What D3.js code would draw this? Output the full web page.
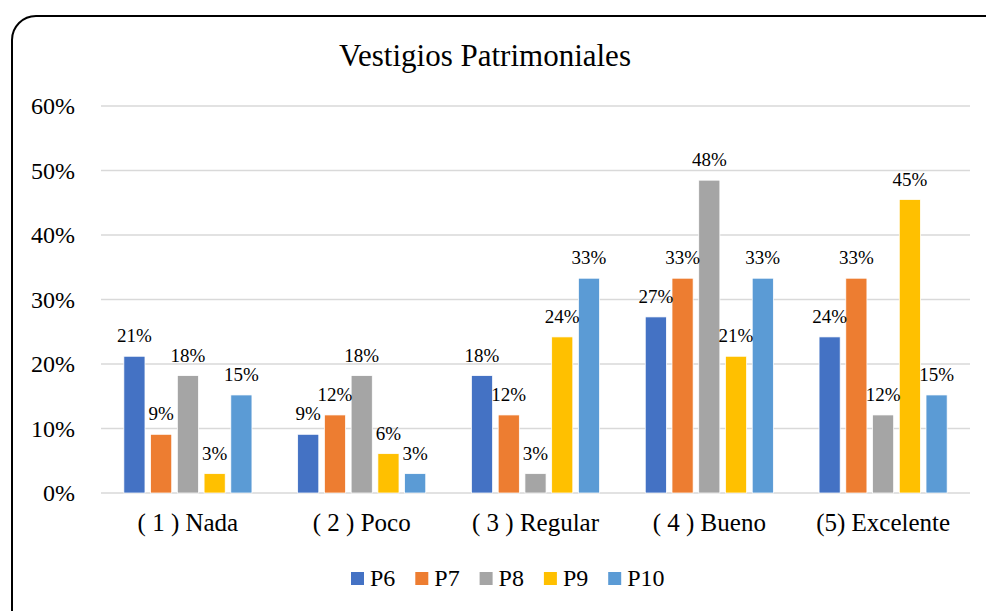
<!DOCTYPE html>
<html>
<head>
<meta charset="utf-8">
<script src="https://cdn.jsdelivr.net/npm/d3@7"></script>
<style>
  body { margin: 0; background: #fff; }
</style>
</head>
<body>
<svg id="chart" width="986" height="611"></svg>
<script>
// chart data
const categories = ["( 1 ) Nada", "( 2 ) Poco", "( 3 ) Regular", "( 4 ) Bueno", "(5) Excelente"];
const seriesNames = ["P6", "P7", "P8", "P9", "P10"];
const colors = ["#4472C4", "#ED7D31", "#A5A5A5", "#FFC000", "#5B9BD5"];
// one array per series, in category order (fractions)
const P6  = [0.212, 0.091, 0.182, 0.273, 0.242];
const P7  = [0.091, 0.121, 0.121, 0.333, 0.333];
const P8  = [0.182, 0.182, 0.030, 0.485, 0.121];
const P9  = [0.030, 0.061, 0.242, 0.212, 0.455];
const P10 = [0.152, 0.030, 0.333, 0.333, 0.152];
const yTicks = [0, 0.1, 0.2, 0.3, 0.4, 0.5, 0.6];

const seriesValues = [P6, P7, P8, P9, P10];
const FONT = "'Liberation Serif', 'Times New Roman', Tinos, 'DejaVu Serif', serif";
const pct = d3.format(".0%");

const svg = d3.select("#chart").attr("font-family", FONT);

// outer rounded frame (runs off the right and bottom edge like the original)
svg.append("rect")
  .attr("x", 12).attr("y", 16)
  .attr("width", 1000).attr("height", 620)
  .attr("rx", 24).attr("ry", 24)
  .attr("fill", "none")
  .attr("stroke", "#000")
  .attr("stroke-width", 2);

svg.append("text")
  .attr("x", 485).attr("y", 66)
  .attr("text-anchor", "middle")
  .attr("font-family", FONT)
  .attr("font-size", 31)
  .text("Vestigios Patrimoniales");

const plotL = 101, plotR = 970, plotT = 106, plotB = 493;

const x0 = d3.scaleBand().domain(categories).range([plotL, plotR]).paddingInner(0).paddingOuter(0);
const groupW = x0.bandwidth() * 0.737;
const x1 = d3.scaleBand().domain(seriesNames).range([0, groupW]).paddingInner(0.21).paddingOuter(0);
const y = d3.scaleLinear().domain([0, 0.6]).range([plotB, plotT]);

// gridlines
svg.append("g").selectAll("line")
  .data(yTicks)
  .join("line")
  .attr("x1", plotL).attr("x2", plotR)
  .attr("y1", d => y(d)).attr("y2", d => y(d))
  .attr("stroke", "#d9d9d9")
  .attr("stroke-width", 1.5);

// y axis labels
const yAxis = d3.axisLeft(y).tickValues(yTicks).tickFormat(pct).tickSize(0).tickPadding(0);
const gy = svg.append("g").attr("transform", "translate(75,0)").call(yAxis)
  .attr("font-family", FONT).attr("font-size", 24);
gy.select(".domain").remove();
gy.selectAll("text").attr("fill", "#000");

// x axis labels
const xAxis = d3.axisBottom(x0).tickSize(0).tickPadding(0);
const gx = svg.append("g").attr("transform", "translate(0," + (plotB + 20) + ")").call(xAxis)
  .attr("font-family", FONT).attr("font-size", 25);
gx.select(".domain").remove();
gx.selectAll("text").attr("fill", "#000");

// bars
const groups = svg.append("g").selectAll("g")
  .data(categories)
  .join("g")
  .attr("transform", d => "translate(" + (x0(d) + (x0.bandwidth() - groupW) / 2) + ",0)");

const rows = (c, ci) => seriesNames.map((s, si) => ({ s: s, si: si, v: seriesValues[si][ci] }));

groups.selectAll("rect")
  .data(rows)
  .join("rect")
  .attr("x", d => x1(d.s))
  .attr("y", d => y(d.v))
  .attr("width", x1.bandwidth())
  .attr("height", d => y(0) - y(d.v))
  .attr("fill", d => colors[d.si])
  .attr("stroke", "#fff")
  .attr("stroke-width", 0.75);

groups.selectAll("text")
  .data(rows)
  .join("text")
  .attr("x", d => x1(d.s) + x1.bandwidth() / 2)
  .attr("y", d => y(d.v) - 14)
  .attr("text-anchor", "middle")
  .attr("font-size", 19)
  .text(d => pct(Math.floor(d.v * 100) / 100));

// legend
const legend = svg.append("g").selectAll("g")
  .data(seriesNames)
  .join("g")
  .attr("transform", (d, i) => "translate(" + (351 + i * 64.3) + ",572)");
legend.append("rect")
  .attr("width", 13).attr("height", 13)
  .attr("fill", (d, i) => colors[i]);
legend.append("text")
  .attr("x", 19).attr("y", 14)
  .attr("font-size", 24)
  .text(d => d);
</script>
</body>
</html>
